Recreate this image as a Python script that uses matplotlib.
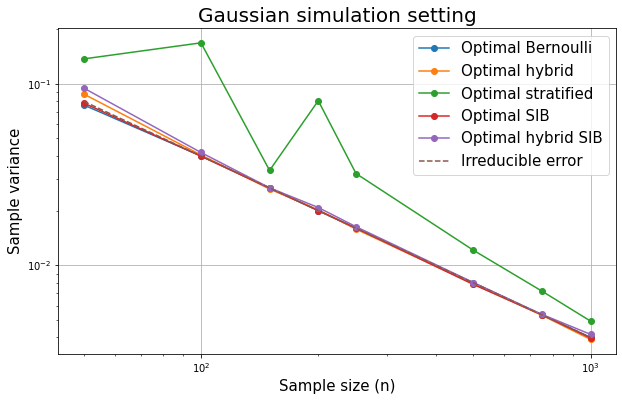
import matplotlib
matplotlib.use("Agg")
import matplotlib.pyplot as plt

n = [50, 100, 150, 200, 250, 500, 750, 1000]
bernoulli = [0.0764, 0.0400, 0.0266, 0.0200, 0.0160, 0.0080, 0.00533, 0.00400]
hybrid = [0.0878, 0.0405, 0.0263, 0.0202, 0.0158, 0.0079, 0.00530, 0.00390]
stratified = [0.137, 0.168, 0.0333, 0.0806, 0.0320, 0.0121, 0.0072, 0.00492]
sib = [0.0783, 0.0399, 0.0266, 0.0200, 0.0160, 0.00784, 0.00533, 0.00397]
hybrid_sib = [0.0947, 0.0418, 0.0267, 0.0208, 0.0163, 0.00803, 0.00536, 0.00416]
irreducible = [0.0800, 0.0400, 0.0267, 0.0200, 0.0160, 0.0080, 0.00533, 0.00400]

W, H = 622, 401
fig = plt.figure(figsize=(W/72, H/72), dpi=72)
ax = fig.add_axes([58.3/W, 1-354.3/H, (616-58.3)/W, (354.3-28)/H])

ax.plot(n, bernoulli, marker='o', color='C0', label='Optimal Bernoulli')
ax.plot(n, hybrid, marker='o', color='C1', label='Optimal hybrid')
ax.plot(n, stratified, marker='o', color='C2', label='Optimal stratified')
ax.plot(n, sib, marker='o', color='C3', label='Optimal SIB')
ax.plot(n, hybrid_sib, marker='o', color='C4', label='Optimal hybrid SIB')
ax.plot(n, irreducible, linestyle='--', color='C5', label='Irreducible error')

ax.set_xscale('log')
ax.set_yscale('log')
ax.grid(True, which='major')
ax.set_title('Gaussian simulation setting', fontsize=20)
ax.set_xlabel('Sample size (n)', fontsize=15)
ax.set_ylabel('Sample variance', fontsize=15)
ax.legend(fontsize=15, loc='upper right')

fig.savefig('out.png', dpi=72)
